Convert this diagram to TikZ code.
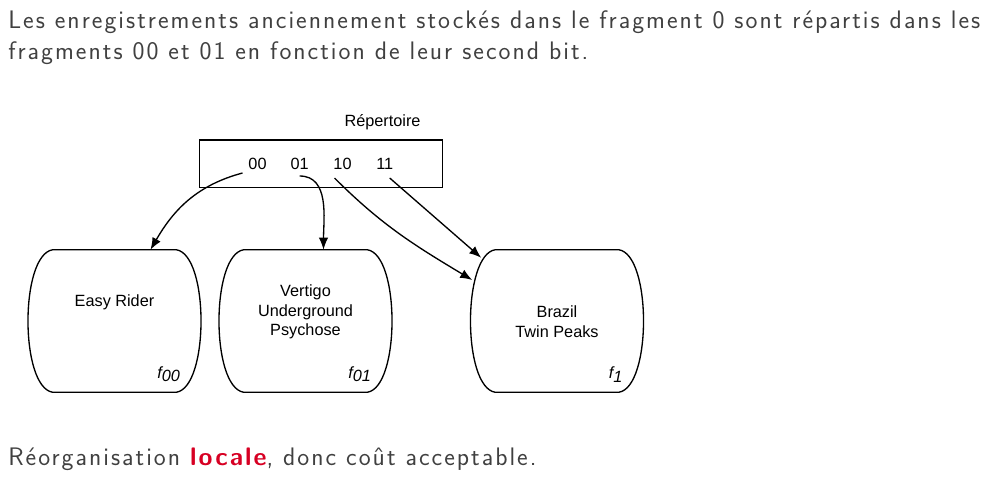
\documentclass[tikz,border=0pt]{standalone}
\usepackage{fontspec}
\newfontfamily\helv{Liberation Sans}
\newfontfamily\slidefont{Latin Modern Sans}[LetterSpace=8]
\usetikzlibrary{arrows.meta,calc}
\definecolor{slidetext}{gray}{0.25}
\definecolor{alertred}{RGB}{215,0,35}
% bulging outline of a bucket, drawn round a named node
\newcommand\bucketoutline[1]{%
  \draw[bucketline] ($(#1.north west)+(25,0)$) -- ($(#1.north east)+(-25,0)$)
    .. controls ($(#1.north east)+(8,5)$) and ($(#1.south east)+(8,-5)$) .. ($(#1.south east)+(-25,0)$)
    -- ($(#1.south west)+(25,0)$)
    .. controls ($(#1.south west)+(-8,-5)$) and ($(#1.north west)+(-8,5)$) .. cycle;}
\begin{document}
\begin{tikzpicture}[x=0.75pt, y=-0.75pt,
    every node/.style={inner sep=0pt},
    slide/.style={font=\slidefont\fontsize{19}{23}\selectfont, text=slidetext, anchor=base west},
    diag/.style={font=\helv\fontsize{12.2}{14.6}\selectfont, align=center},
    tag/.style={font=\helv\itshape\fontsize{12.2}{14.6}\selectfont, anchor=south east},
    dirbox/.style={draw, line width=1pt, minimum width=182.25pt, minimum height=35.5pt},
    bucket/.style={rectangle, minimum width=129.75pt, minimum height=106.5pt},
    bucketline/.style={line width=1pt},
    arrow/.style={-{Latex[length=9pt,width=7pt]}, line width=1pt}
  ]
  \useasboundingbox (0,0) rectangle (991,486);
  % slide text
  \node[slide] (line1) at (8,28)
  {Les enregistrements anciennement stockés dans le fragment 0 sont répartis dans les};
  \node[slide] (line2) at (8,59) {fragments 00 et 01 en fonction de leur second bit.};
  \node[slide] (line3) at (8,465)
  {Réorganisation {\bfseries\color{alertred}locale}, donc coût acceptable.};
  % directory
  \node[diag] (dirlabel) at (382.5,122) {Répertoire};
  \node[dirbox] (dir) at (320.8,163.6) {};
  \node[diag] (d00) at (257.5,164) {00};
  \node[diag] (d01) at (299.7,164) {01};
  \node[diag] (d10) at (342.5,164) {10};
  \node[diag] (d11) at (384.7,164) {11};
  % buckets
  \node[bucket] (b1) at (114.5,321) {};
  \node[bucket] (b2) at (305.5,321) {};
  \node[bucket] (b3) at (557,321) {};
  \bucketoutline{b1}
  \bucketoutline{b2}
  \bucketoutline{b3}
  \node[diag] (t1) at (114.5,302) {Easy Rider};
  \node[diag] (t2) at (305.5,312) {Vertigo\\Underground\\Psychose};
  \node[diag] (t3) at (557,321.5) {Brazil\\Twin Peaks};
  \node[tag] (f00) at ($(b1.south east)+(-21,-10)$) {f\raisebox{-0.4ex}{00}};
  \node[tag] (f01) at ($(b2.south east)+(-21,-10)$) {f\raisebox{-0.4ex}{01}};
  \node[tag] (f1) at ($(b3.south east)+(-21,-10)$) {f\raisebox{-0.4ex}{1}};
  % pointers
  \draw[arrow] ($(d00)+(-15,9)$) to[out=195,in=60] ($(b1.north)+(36,0)$);
  \draw[arrow] ($(d01)+(0,12)$) to[out=0,in=90] ($(b2.north)+(18,0)$);
  \draw[arrow] ($(d10)+(-8,14)$) to[out=-45,in=149] ($(b3.west)+(2,-41)$);
  \draw[arrow] ($(d11)+(5,14)$) -- ($(b3.north west)+(11,8)$);
\end{tikzpicture}
\end{document}
